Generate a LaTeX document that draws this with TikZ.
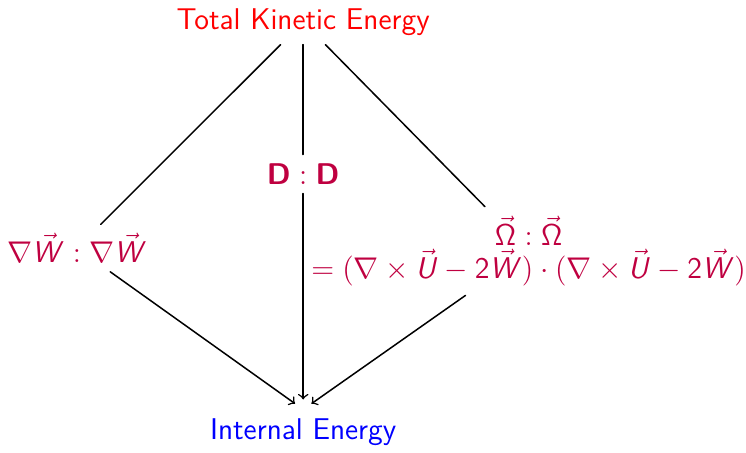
\documentclass[tikz,border=0pt]{standalone}
% sans serif letters in math
\DeclareSymbolFont{sfslanted}{OT1}{cmss}{m}{sl}
\DeclareSymbolFont{sfupright}{OT1}{cmss}{m}{n}
\DeclareMathSymbol{W}{\mathalpha}{sfslanted}{`W}
\DeclareMathSymbol{U}{\mathalpha}{sfslanted}{`U}
\DeclareMathSymbol{\Omega}{\mathalpha}{sfupright}{"0A}
\DeclareMathSymbol{2}{\mathalpha}{sfupright}{`2}
\DeclareMathAlphabet{\mathbf}{OT1}{cmss}{bx}{n}
\begin{document}
\begin{tikzpicture}[line cap=round, line join=round, semithick,
    every node/.style={font=\fontsize{12pt}{13.5pt}\selectfont\sffamily},
    term/.style={text=purple}]
  \useasboundingbox (0,0) rectangle (10.486,6.354);
  \node[text=red] (total) at (4.262,6.044) {Total Kinetic Energy};
  \node[term] (grad) at (1.082,2.867) {$\nabla\vec{W}:\nabla\vec{W}$};
  \node[term] (dd) at (4.262,3.908) {$\mathbf{D}:\mathbf{D}$};
  \node[term, align=center] (omega) at (7.43,2.825)
    {$\vec{\Omega}:\vec{\Omega}$\\ $=(\nabla\times\vec{U}-2\vec{W})\cdot(\nabla\times\vec{U}-2\vec{W})$};
  \node[text=blue] (internal) at (4.262,0.281) {Internal Energy};
  % dissipation paths
  \foreach \t in {grad,dd,omega}{
    \draw (total) -- (\t);
    \draw[->, shorten >=4pt] (\t) -- (internal.north);
  }
\end{tikzpicture}
\end{document}
